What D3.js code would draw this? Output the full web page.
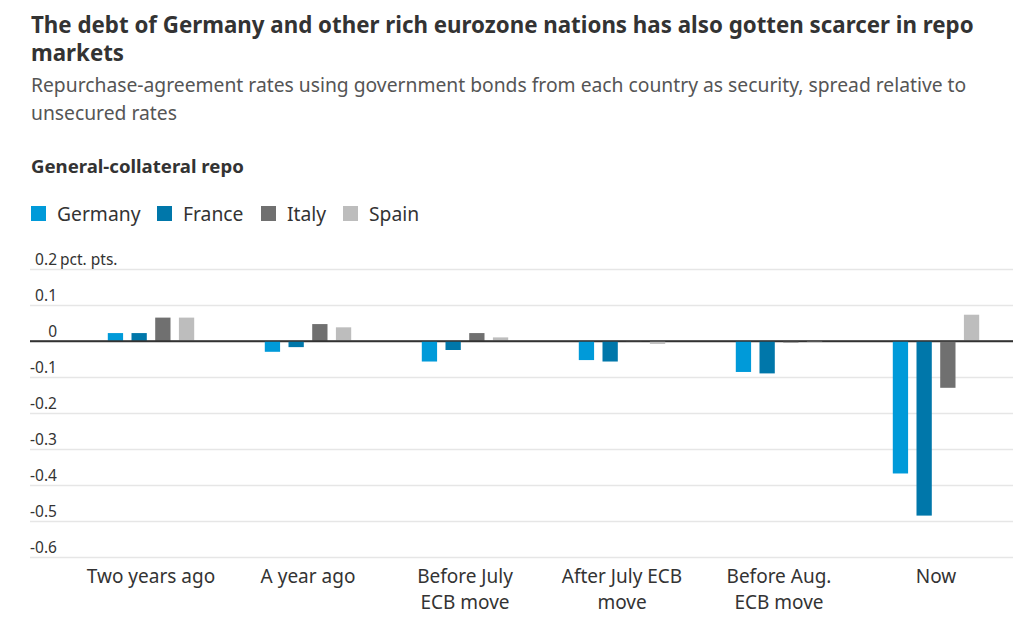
<!DOCTYPE html>
<html>
<head>
<meta charset="utf-8">
<script src="https://cdn.jsdelivr.net/npm/d3@7"></script>
<style>
  body { margin: 0; background: #fff; }
  svg { font-family: "Noto Sans", Roboto, sans-serif; }
  .title { font-size: 22.3px; font-weight: 700; fill: #333; }
  .subtitle { font-size: 19.3px; font-weight: 400; fill: #555; }
  .chart-label { font-size: 18.6px; font-weight: 700; fill: #333; }
  .legend text { font-size: 19.3px; font-weight: 400; fill: #333; }
  .axis text { font-family: "Noto Sans", Roboto, sans-serif; font-size: 15.5px; font-weight: 400; fill: #333; }
  .xlabel { font-size: 19px; font-weight: 400; fill: #333; }
</style>
</head>
<body>
<script>
// categories and series
const categories = ["Two years ago", "A year ago", "Before July ECB move", "After July ECB move", "Before Aug. ECB move", "Now"];
const categoryLines = [["Two years ago"], ["A year ago"], ["Before July", "ECB move"], ["After July ECB", "move"], ["Before Aug.", "ECB move"], ["Now"]];
const series = ["Germany", "France", "Italy", "Spain"];
const colors = ["#009ad9", "#0077aa", "#707070", "#bdbdbd"];

// values, pct. pts.
const germany = [0.022, -0.030, -0.057, -0.053, -0.086, -0.368];
const france  = [0.022, -0.017, -0.025, -0.057, -0.090, -0.485];
const italy   = [0.065,  0.047,  0.022, -0.001, -0.004, -0.130];
const spain   = [0.065,  0.038,  0.010, -0.008, -0.003,  0.073];
const values = [germany, france, italy, spain];

const yTicks = [0.2, 0.1, 0, -0.1, -0.2, -0.3, -0.4, -0.5, -0.6];

const w = 1027;
const h = 638;

const svg = d3.select("body").append("svg").attr("width", w).attr("height", h);

// title block
svg.append("text").attr("class", "title").attr("x", 31).attr("y", 33)
  .text("The debt of Germany and other rich eurozone nations has also gotten scarcer in repo");
svg.append("text").attr("class", "title").attr("x", 31).attr("y", 61).text("markets");
svg.append("text").attr("class", "subtitle").attr("x", 31).attr("y", 92)
  .text("Repurchase-agreement rates using government bonds from each country as security, spread relative to");
svg.append("text").attr("class", "subtitle").attr("x", 31).attr("y", 120).text("unsecured rates");
svg.append("text").attr("class", "chart-label").attr("x", 31).attr("y", 173).text("General-collateral repo");

// legend
const legendX = [31, 157, 261, 343];
const legend = svg.append("g").attr("class", "legend");
series.forEach((s, i) => {
  const g = legend.append("g").attr("transform", "translate(" + legendX[i] + ",206)");
  g.append("rect").attr("width", 15).attr("height", 15).attr("fill", colors[i]);
  g.append("text").attr("x", 26).attr("y", 15).text(s);
});

// scales
const y = d3.scaleLinear().domain([-0.6, 0.2]).range([557, 269]);
const x0 = d3.scaleBand().domain(categories).range([72.5, 1014.5]);
const x1 = d3.scaleBand().domain(series)
  .range([x0.bandwidth() / 2 - 47.4, x0.bandwidth() / 2 + 47.4])
  .paddingInner(0.355).paddingOuter(0.177);

// y axis with gridlines
const gridLeft = 30;
const gridRight = 1013;
const yAxis = d3.axisLeft(y).tickValues(yTicks).tickSize(-(gridRight - gridLeft))
  .tickFormat(d => d === 0 ? "0" : d.toFixed(1));

const axisG = svg.append("g").attr("class", "axis")
  .attr("transform", "translate(" + gridLeft + ",0)")
  .call(yAxis);
axisG.select(".domain").remove();
axisG.selectAll(".tick line")
  .attr("stroke", d => d === 0 ? "#333" : "#e6e6e6")
  .attr("stroke-width", d => d === 0 ? 1.6 : 1.5);
axisG.selectAll(".tick text")
  .attr("x", 27).attr("y", -5).attr("dy", 0)
  .attr("text-anchor", "end");
axisG.selectAll(".tick").filter(d => d === 0.2)
  .append("text").attr("x", 30).attr("y", -5)
  .attr("text-anchor", "start").text("pct. pts.");

// bars
const groups = svg.append("g").selectAll("g")
  .data(categories)
  .enter()
  .append("g")
  .attr("transform", d => "translate(" + x0(d) + ",0)");

groups.selectAll("rect")
  .data((d, ci) => series.map((s, si) => ({ s: s, si: si, v: values[si][ci] })))
  .enter()
  .append("rect")
  .attr("x", d => x1(d.s))
  .attr("width", x1.bandwidth())
  .attr("y", d => y(Math.max(0, d.v)))
  .attr("height", d => Math.abs(y(d.v) - y(0)))
  .attr("fill", d => colors[d.si]);

// redraw zero line above bars
svg.append("line")
  .attr("x1", gridLeft).attr("x2", gridRight)
  .attr("y1", y(0)).attr("y2", y(0))
  .attr("stroke", "#333").attr("stroke-width", 1.6);

// category labels
categories.forEach((c, i) => {
  const t = svg.append("text").attr("class", "xlabel")
    .attr("x", x0(c) + x0.bandwidth() / 2).attr("y", 583)
    .attr("text-anchor", "middle");
  categoryLines[i].forEach((line, li) => {
    t.append("tspan").attr("x", x0(c) + x0.bandwidth() / 2).attr("dy", li === 0 ? 0 : 26).text(line);
  });
});
</script>
</body>
</html>
